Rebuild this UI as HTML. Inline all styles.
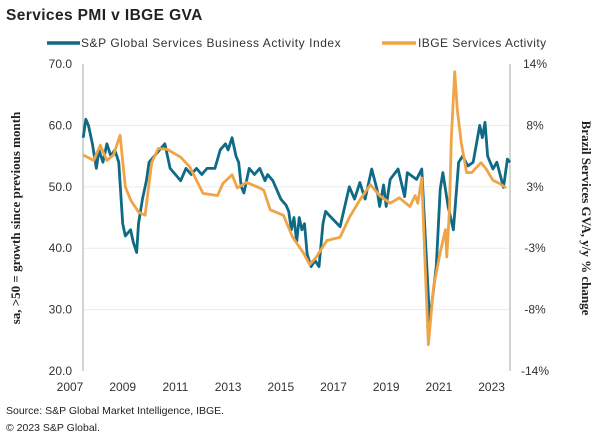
<!DOCTYPE html>
<html><head><meta charset="utf-8"><style>
body{margin:0;background:#fff;width:604px;height:439px;overflow:hidden;font-family:"Liberation Sans",sans-serif}
</style></head><body>
<svg width="604" height="439" id="c" xmlns="http://www.w3.org/2000/svg">
<text x="6" y="20" font-size="15.5" font-weight="bold" letter-spacing="0.4" fill="#222">Services PMI v IBGE GVA</text>
<g>
<line x1="47" y1="43" x2="80" y2="43" stroke="#0e6a85" stroke-width="3.5"/>
<text x="81" y="47" font-size="12" letter-spacing="0.55" fill="#333">S&amp;P Global Services Business Activity Index</text>
<line x1="382" y1="43" x2="416" y2="43" stroke="#f0a446" stroke-width="3.5"/>
<text x="418" y="47" font-size="12" letter-spacing="0.45" fill="#333">IBGE Services Activity</text>
</g>
<g id="grid"></g>
<line x1="83" y1="64" x2="83" y2="371" stroke="#aaa"/>
<line x1="510" y1="64" x2="510" y2="371" stroke="#aaa"/>
<g id="series"></g>
<text transform="translate(20,218) rotate(-90)" text-anchor="middle" font-family="Liberation Serif,serif" font-weight="bold" font-size="13" fill="#222">sa, &gt;50 = growth since previous month</text>
<text transform="translate(582,218) rotate(90)" text-anchor="middle" font-family="Liberation Serif,serif" font-weight="bold" font-size="13" fill="#222">Brazil Services GVA, y/y % change</text>
<text x="6" y="414" font-size="10.5" fill="#222">Source: S&amp;P Global Market Intelligence, IBGE.</text>
<text x="6" y="431" font-size="10.5" fill="#222">© 2023 S&amp;P Global.</text>
</svg>
<script>
const leftTicks=[70,60,50,40,30,20];
const rightTicks=[14,8.4,2.8,-2.8,-8.4,-14];
const rightTickLabels=["14%","8%","3%","-3%","-8%","-14%"];
const xTicks=[2007,2009,2011,2013,2015,2017,2019,2021,2023];
const pmiYears=[2007.5,2007.6,2007.7,2007.85,2008.0,2008.1,2008.25,2008.4,2008.55,2008.7,2008.85,2009.0,2009.1,2009.3,2009.4,2009.53,2009.6,2009.75,2009.9,2010.0,2010.2,2010.4,2010.6,2010.8,2011.0,2011.2,2011.4,2011.6,2011.8,2012.0,2012.2,2012.5,2012.7,2012.9,2013.0,2013.15,2013.3,2013.4,2013.5,2013.6,2013.7,2013.8,2014.0,2014.2,2014.4,2014.5,2014.7,2014.9,2015.0,2015.2,2015.3,2015.4,2015.5,2015.6,2015.7,2015.8,2015.9,2016.0,2016.15,2016.3,2016.45,2016.6,2016.7,2016.87,2017.25,2017.6,2017.8,2018.0,2018.2,2018.45,2018.65,2018.75,2018.9,2019.0,2019.15,2019.45,2019.7,2019.8,2020.15,2020.35,2020.65,2020.9,2021.05,2021.15,2021.35,2021.55,2021.75,2021.9,2022.1,2022.3,2022.55,2022.65,2022.75,2022.85,2023.05,2023.2,2023.45,2023.6,2023.7];
const pmiValues=[58,61,60,57,53,56,54,57,55,56,54,44,42,43,41,39.3,44,48,51,54,55,56,57,53,52,51,53,52,53,52,53,53,56,57,56,58,55,54,50,49,51,53,52,53,51,52,51,49,48,47,46,43,45,41,45,43,44,39,37,38,37,44,46,45.2,43.5,50,48,50.7,48,52.9,49.6,46.8,50.3,46.8,51.2,52.9,48.4,52.3,51.2,52.9,28,37,49.6,52.3,46.8,43,54,55,53.4,54,60,58,60.5,55,52.9,54,49.9,54.5,54];
const ibgeYears=[2007.5,2007.9,2008.15,2008.4,2008.65,2008.9,2009.1,2009.3,2009.6,2009.85,2010.1,2010.35,2010.7,2011.2,2011.55,2011.8,2012.05,2012.6,2012.8,2013.15,2013.35,2013.7,2014.1,2014.35,2014.6,2015.1,2015.45,2015.85,2016.1,2016.35,2016.75,2017.25,2017.6,2018.0,2018.4,2018.75,2019.15,2019.5,2019.9,2020.1,2020.2,2020.35,2020.45,2020.6,2020.8,2021.05,2021.25,2021.3,2021.4,2021.47,2021.6,2021.7,2021.85,2022.05,2022.25,2022.4,2022.6,2022.8,2023.05,2023.3,2023.55];
const ibgeValues=[5.7,5.2,6.6,5.2,5.7,7.5,2.8,1.6,0.5,0.2,5.0,6.3,6.2,5.5,4.6,3.4,2.2,2.0,3.1,3.9,2.7,3.2,2.8,2.5,0.7,0.2,-1.8,-3.2,-4.3,-3.6,-2.1,-1.8,0.0,1.6,3.0,2.0,1.3,1.8,1.0,2.0,1.3,3.6,-2.7,-11.6,-6.3,-3.2,-1.1,-3.6,0.7,7.1,13.3,9.8,6.8,4.1,4.1,4.5,5.0,4.4,3.4,3.1,2.7];
const NS="http://www.w3.org/2000/svg";
const svg=document.getElementById('c');
const xS=y=>70+(y-2007)*26.35;
const yL=v=>64+(70-v)/50*307;
const yR=v=>64+(14-v)/28*307;
function mk(tag,attrs,parent,txt){const e=document.createElementNS(NS,tag);for(const k in attrs)e.setAttribute(k,attrs[k]);if(txt!==undefined)e.textContent=txt;parent.appendChild(e);return e;}
const grid=document.getElementById('grid');
leftTicks.forEach((t,i)=>{
  const yy=yL(t);
  if(i>0&&i<leftTicks.length-1){const g=mk('line',{x1:83,x2:510,y1:yy,y2:yy,stroke:'#ececec'},grid);
  
  }
  const l=mk('text',{x:72,y:yy+4,'text-anchor':'end','font-size':12,fill:'#333'},svg,t.toFixed(1));
  
  
});
rightTicks.forEach((t,i)=>{
  const l=mk('text',{x:535,y:yR(t)+4,'text-anchor':'middle','font-size':12,fill:'#333'},svg,rightTickLabels[i]);
  
  
});
xTicks.forEach(t=>{
  const l=mk('text',{x:xS(t),y:391,'text-anchor':'middle','font-size':12,fill:'#333'},svg,String(t));
  
  
});
const ser=document.getElementById('series');
const p1=mk('polyline',{points:pmiYears.map((y,i)=>xS(y)+','+yL(pmiValues[i])).join(' '),fill:'none',stroke:'#0e6a85','stroke-width':2.8,'stroke-linejoin':'round'},ser);


const p2=mk('polyline',{points:ibgeYears.map((y,i)=>xS(y)+','+yR(ibgeValues[i])).join(' '),fill:'none',stroke:'#f0a446','stroke-width':2.8,'stroke-linejoin':'round'},ser);


</script>
</body></html>
